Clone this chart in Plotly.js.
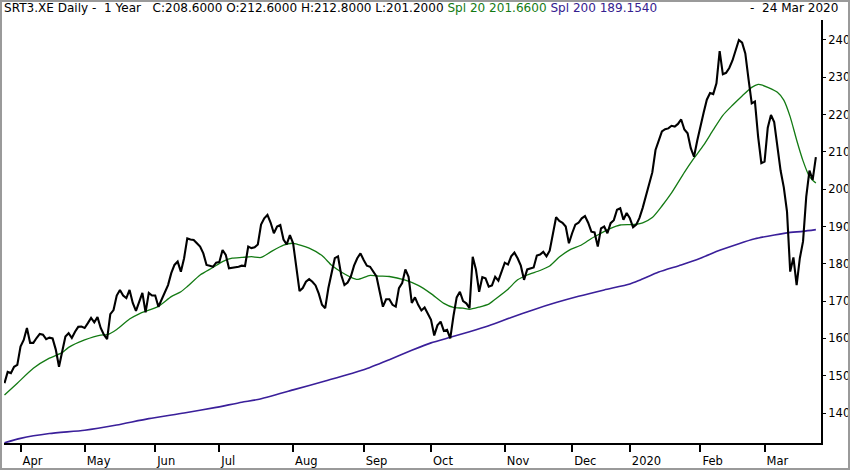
<!DOCTYPE html>
<html><head><meta charset="utf-8">
<script src="https://cdn.plot.ly/plotly-3.0.1.min.js"></script>
<style>
html,body{margin:0;padding:0;background:#fff}
#wrap{position:relative;width:850px;height:470px}
#chart{width:850px;height:470px}
#frame{position:absolute;left:0;top:0;width:850px;height:470px;box-sizing:border-box;border:2px solid #9a9a9a;pointer-events:none}
</style>
</head><body><div id="wrap"><div id="chart"></div><div id="frame"></div></div>
<script>
// ---- data ----
var startDate = '2019-03-25';
var endDate = '2020-03-24';
var holidays = ['2019-04-19','2019-04-22','2019-05-01','2019-12-24','2019-12-25','2019-12-26','2019-12-31','2020-01-01'];
var tickLabels = ['Apr','May','Jun','Jul','Aug','Sep','Oct','Nov','Dec','2020','Feb','Mar'];
var yTicks = [140,150,160,170,180,190,200,210,220,230,240];

var closeVals = [
148,151,150.7,152.4,152.9,157.8,159.6,162.8,158.8,158.8,
160.1,161.2,161.0,159.8,160.2,160.0,157.0,152.4,156.5,160.5,
161.4,160.1,161.8,163.1,163.2,162.8,164.1,165.5,164.3,165.7,
162.8,161.0,159.8,166.5,167.6,171.5,173.0,171.5,170.8,173.0,
169.5,167.4,169.8,172.2,167.0,172.2,171.5,171.5,168.5,170.3,
172.2,174.3,177.5,179.7,180.6,177.9,181.5,186.8,186.5,186.4,
185.5,184.6,182.8,179.7,179.5,179.2,180.3,180.5,183.7,182.4,
178.8,178.9,179.0,179.2,179.5,179.4,184.6,184.2,184.4,185.2,
190.5,192.2,193.1,191.0,188.2,190.0,190.4,186.5,185.2,187.7,
185.5,179.2,172.7,173.5,175.2,175.9,175.2,174.2,172.0,169.0,
168.1,173.5,177.5,181.5,182.0,177.0,174.3,175.0,176.6,179.5,
181.5,182.8,181.0,179.5,179.2,177.9,176.6,172.5,168.5,170.5,
170.5,169.0,168.5,173.5,174.8,178.5,176.5,169.5,171.0,169.0,
167.5,168.3,166.8,165.0,160.8,163.5,164.5,162.0,162.3,160.0,
166.0,171.0,172.5,170.0,169.4,168.1,181.9,178.5,172.5,176.4,
176.1,173.9,174.2,176.5,175.5,178.0,180.3,179.8,182.0,183.0,
181.5,179.5,175.7,178.5,178.8,179.0,182.2,182.5,183.2,182.0,
183.5,188.0,192.5,191.5,191.0,190.0,185.5,188.2,190.5,191.0,
192.2,192.8,191.0,188.6,188.4,184.6,189.5,190.0,188.2,190.9,
191.7,194.5,194.9,191.8,193.6,192.2,189.8,190.5,192.3,195.0,
198.0,201.5,204.5,210.5,213.2,215.5,216.1,216.3,217.0,216.8,
217.5,218.7,216.0,215.0,211.0,208.7,213.0,217.2,220.5,224.0,
225.8,225.5,228.4,237.0,230.8,231.2,232.5,234.5,237.3,240.0,
239.3,236.4,229.5,223.0,223.5,214.0,207.0,207.4,216.5,219.9,
218.0,211.0,205.0,200.5,194.0,177.9,181.7,174.3,181.5,186.0,
198.0,205.0,202.5,208.6
];

var spl20Idx = [0,4,9,14,18,20,25,30,32,35,39,42,48,52,55,57,61,65,68,71,74,77,80,83,87,90,95,99,102,105,108,110,114,117,120,125,129,133,137,140,143,145,148,151,153,157,160,163,167,170,173,176,180,183,186,189,192,195,197,199,202,205,208,212,215,218,221,224,227,230,233,235,236,238,241,243,245,247,249,251,253];
var spl20Vals = [144.8,148,152,154.7,156.2,157.6,159.6,160.9,161,162.4,165.2,166.6,168.6,171.2,172.5,173.9,177,179,180.6,181.5,181.7,181.9,181.7,183.2,185,185.5,184.2,182.2,179.6,177.8,176.4,175.8,176.9,176.7,176.6,175.6,174.2,172,169.4,168.3,168.1,167.8,168.4,169.2,170.5,173.2,175.7,177,178.2,179.4,181.8,183.6,185.1,186.8,188.2,189.5,190.4,190.5,190.6,191,192.4,195.5,199,204.5,208.3,211.8,215.9,219.8,222.5,225,227.3,228.1,228.0,227.3,226,223.9,219.4,213.2,207.6,203.4,201.66];

var spl200Idx = [0,5,14,25,35,45,56,66,74,79,90,100,112,120,127,133,139,145,151,158,165,172,179,187,195,198,204,211,217,223,229,234,238,244,249,253];
var spl200Vals = [132.0,133.2,134.5,135.4,136.8,138.5,140,141.5,142.9,143.6,146.2,148.6,151.6,154.3,156.8,158.8,160.3,161.8,163.4,165.6,167.7,169.6,171.3,173,174.6,175.6,177.8,179.7,181.5,183.6,185.4,186.7,187.4,188.3,188.7,189.154];

// ---- trading-day categories ----
function fmt(d){var m=d.getUTCMonth()+1, dd=d.getUTCDate();return d.getUTCFullYear()+'-'+(m<10?'0':'')+m+'-'+(dd<10?'0':'')+dd;}
var dates = [];
(function(){
  var d = new Date(startDate+'T00:00:00Z'), e = new Date(endDate+'T00:00:00Z');
  while (d <= e) {
    var wd = d.getUTCDay(), s = fmt(d);
    if (wd !== 0 && wd !== 6 && holidays.indexOf(s) < 0) dates.push(s);
    d = new Date(d.getTime() + 86400000);
  }
})();
var tickVals = [];
for (var i = 1; i < dates.length; i++) {
  if (dates[i].slice(5,7) !== dates[i-1].slice(5,7)) tickVals.push(dates[i]);
}

var header = 'SRT3.XE Daily -\u00a0\u00a01 Year\u00a0\u00a0\u00a0C:208.6000 O:212.6000 H:212.8000 L:201.2000 ' +
  '<span style="color:#137a13">Spl 20 201.6600</span> <span style="color:#34208f">Spl 200 189.1540</span>';
var headerRight = '-\u00a0\u00a024 Mar 2020';

var traces = [
  {x: spl200Idx.map(function(k){return dates[k];}), y: spl200Vals, type:'scatter', mode:'lines',
   line:{color:'#3a1f9a', width:1.6, shape:'spline', smoothing:0.6}},
  {x: spl20Idx.map(function(k){return dates[k];}), y: spl20Vals, type:'scatter', mode:'lines',
   line:{color:'#137a13', width:1.3, shape:'spline', smoothing:0.6}},
  {x: dates, y: closeVals, type:'scatter', mode:'lines', line:{color:'#000', width:2.1}}
];

var font = {family:'DejaVu Sans, Verdana, sans-serif', size:11.5, color:'#000'};
var hfont = {family:'DejaVu Sans, Verdana, sans-serif', size:12.05, color:'#000'};
var layout = {
  width:850, height:470,
  margin:{l:4, r:29, t:20, b:27, pad:0},
  paper_bgcolor:'#fff', plot_bgcolor:'#fff',
  showlegend:false,
  font: font,
  xaxis:{type:'category', categoryorder:'array', categoryarray: dates,
    range:[-0.15, 254.6], showgrid:false, zeroline:false,
    showline:true, linecolor:'#000', linewidth:2,
    ticks:'outside', ticklen:7, tickwidth:2, tickcolor:'#000',
    tickvals: tickVals, ticktext: tickLabels, ticklabelposition:'outside right',
    ticklabelstandoff: 6,
    tickfont: font},
  yaxis:{side:'right', range:[131.96, 245.36], showgrid:false, zeroline:false,
    showline:true, linecolor:'#000', linewidth:2,
    ticks:'outside', ticklen:3, tickwidth:1, tickcolor:'#000',
    tickvals: yTicks, tickfont: font},
  annotations:[
    {xref:'paper', yref:'paper', x:-0.002, y:1, xanchor:'left', yanchor:'middle', yshift:12, xshift:0,
     text: header, showarrow:false, font: hfont},
    {xref:'paper', yref:'paper', x:1.0233, y:1, xanchor:'right', yanchor:'middle', yshift:12,
     text: headerRight, showarrow:false, font: hfont}
  ]
};
Plotly.newPlot('chart', traces, layout, {staticPlot:true, displayModeBar:false});
</script></body></html>
